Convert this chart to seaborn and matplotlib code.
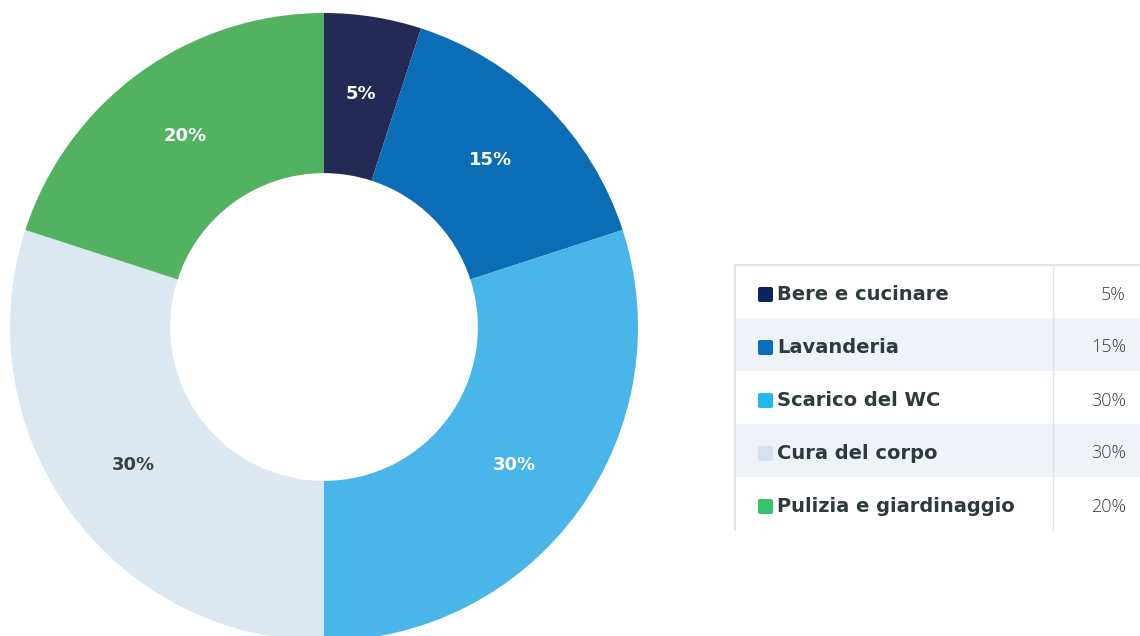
import matplotlib
matplotlib.use("Agg")
import matplotlib.pyplot as plt
from matplotlib.patches import Rectangle, FancyBboxPatch
import numpy as np
import seaborn as sns

categories = ["Bere e cucinare", "Lavanderia", "Scarico del WC", "Cura del corpo", "Pulizia e giardinaggio"]
values = [5, 15, 30, 30, 20]
slice_colors = ["#232A56", "#0B6DB5", "#4AB5E8", "#DCE8F1", "#52B262"]
legend_colors = ["#0A2463", "#0A6EBD", "#25B8EF", "#D5E2EC", "#35C46B"]
label_colors = ["white", "white", "white", "#3A3F42", "white"]
value_labels = [f"{v}%" for v in values]

sns.set_theme(style="white")
plt.rcParams['font.family'] = ['DejaVu Sans']

W, H = 1140, 636
fig = plt.figure(figsize=(W / 100, H / 100), dpi=100)
fig.patch.set_facecolor("white")

# donut
cx, cy, R = 324, 327, 314
ax = fig.add_axes([(cx - R) / W, (H - cy - R) / H, 2 * R / W, 2 * R / H])
wedges, _ = ax.pie(values, colors=slice_colors, startangle=90, counterclock=False,
                   radius=1.0, wedgeprops=dict(width=0.51, linewidth=0))
cum = np.cumsum([0] + values[:-1])
for v, c0, lab, lc in zip(values, cum, value_labels, label_colors):
    ang = np.deg2rad(90 - 360 * (c0 + v / 2) / sum(values))
    r = 0.75
    ax.text(r * np.cos(ang), r * np.sin(ang), lab, ha="center", va="center",
            color=lc, fontsize=13, fontweight="heavy")
ax.set_xlim(-1, 1)
ax.set_ylim(-1, 1)
ax.set_aspect("equal")
ax.axis("off")

# table
tax = fig.add_axes([0, 0, 1, 1])
tax.set_xlim(0, W)
tax.set_ylim(H, 0)
tax.axis("off")
x0, x1, xdiv = 735, 1140, 1053
y0, rh = 265, 53
line_c = "#DDE6EE"
for i, (cat, col, lab) in enumerate(zip(categories, legend_colors, value_labels)):
    ytop = y0 + i * rh
    if i % 2 == 1:
        tax.add_patch(Rectangle((x0, ytop), x1 - x0, rh, facecolor="#EFF3F8", edgecolor="none", zorder=1))
    yc = ytop + rh / 2 + 3
    tax.add_patch(FancyBboxPatch((758, yc - 7.5), 15, 15, boxstyle="round,pad=0,rounding_size=2",
                                 facecolor=col, edgecolor="none", zorder=3))
    tax.text(777, yc, cat, ha="left", va="center", fontsize=14, fontweight="bold",
             color="#2F3A3C", zorder=3)
    tax.text(1126, yc, lab, ha="right", va="center", fontsize=13, fontweight="light",
             color="#3A3F42", family=["Open Sans", "DejaVu Sans"], zorder=3)
tax.plot([x0, x1], [y0, y0], color=line_c, lw=1.5, zorder=2)
tax.plot([x0, x0], [y0, y0 + 5 * rh], color=line_c, lw=1.5, zorder=2)
tax.plot([xdiv, xdiv], [y0, y0 + 5 * rh], color=line_c, lw=1, zorder=2)

fig.savefig("out.png", dpi=100, facecolor="white")
